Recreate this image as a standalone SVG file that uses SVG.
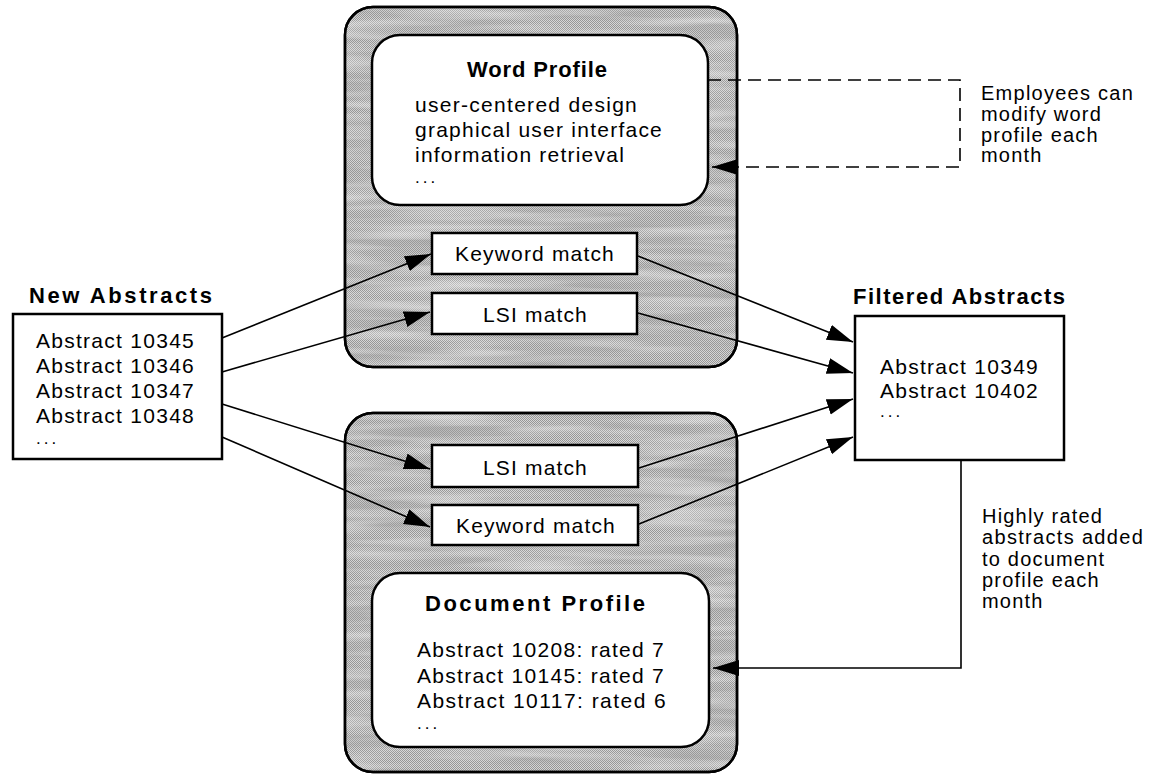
<svg xmlns="http://www.w3.org/2000/svg" width="1149" height="775" viewBox="0 0 1149 775">
  <defs>
    <style>
      .txt { font-family: "Liberation Sans", Arial, sans-serif; font-size: 21px; fill: #000; letter-spacing: 1.2px; }
      .dots { font-family: "Liberation Sans", Arial, sans-serif; font-size: 17px; fill: #000; letter-spacing: 3px; }
      .hd { font-family: "Liberation Sans", Arial, sans-serif; font-size: 22px; font-weight: bold; fill: #000; }
      .note { font-family: "Liberation Sans", Arial, sans-serif; font-size: 20px; fill: #000; letter-spacing: 1.2px; }
      .box { fill: #fff; stroke: #000; stroke-width: 2.5; }
      .outer { fill: url(#dither); stroke: #000; stroke-width: 2.5; }
      .rim { fill: none; stroke: #000; stroke-width: 2.5; }
      .streak { filter: url(#streaks); }
      .conn { fill: none; stroke: #000; stroke-width: 1.6; }
      .dash { stroke-dasharray: 13 7; }
    </style>
    <pattern id="dither" width="2" height="2" patternUnits="userSpaceOnUse">
      <rect width="2" height="2" fill="#d6d6d6"/>
      <rect width="1" height="1" fill="#969696"/>
      <rect x="1" y="1" width="1" height="1" fill="#969696"/>
    </pattern>
    <filter id="streaks" x="0" y="0" width="1" height="1">
      <feTurbulence type="fractalNoise" baseFrequency="0.006 0.08" numOctaves="3" seed="7" result="n"/>
      <feColorMatrix in="n" type="matrix" values="0 0 0 0 0.35  0 0 0 0 0.35  0 0 0 0 0.35  2.2 0 0 0 -0.85" result="dark"/>
      <feTurbulence type="fractalNoise" baseFrequency="0.008 0.1" numOctaves="2" seed="21" result="n2"/>
      <feColorMatrix in="n2" type="matrix" values="0 0 0 0 0.92  0 0 0 0 0.92  0 0 0 0 0.92  2.0 0 0 0 -0.85" result="light"/>
      <feMerge result="m"><feMergeNode in="dark"/><feMergeNode in="light"/></feMerge>
      <feComposite in="m" in2="SourceGraphic" operator="in"/>
    </filter>
    <marker id="arr" markerUnits="userSpaceOnUse" markerWidth="28" markerHeight="18" refX="26" refY="8" orient="auto">
      <path d="M0,0 L26,8 L0,16 z" fill="#000"/>
    </marker>
  </defs>

  <rect width="1149" height="775" fill="#fff"/>

  <!-- Upper (word profile) container -->
  <g id="word-profile-container">
    <rect class="outer" x="345" y="7" width="392" height="360" rx="28"/>
    <rect class="streak" x="346" y="8" width="390" height="358" rx="27" fill="#000" opacity="0.55"/>
    <rect class="rim" x="345" y="7" width="392" height="360" rx="28"/>
  </g>
  <g id="word-profile">
    <rect class="box" x="372" y="35" width="336" height="170" rx="28"/>
    <text class="hd" x="537" y="77" text-anchor="middle" textLength="140" lengthAdjust="spacing">Word Profile</text>
    <text class="txt" x="415" y="112" textLength="223" lengthAdjust="spacing">user-centered design</text>
    <text class="txt" x="415" y="137" textLength="248" lengthAdjust="spacing">graphical user interface</text>
    <text class="txt" x="415" y="162" textLength="210" lengthAdjust="spacing">information retrieval</text>
    <text class="dots" x="415" y="183">...</text>
  </g>
  <g id="keyword-match-top">
    <rect class="box" x="432" y="233" width="205" height="41"/>
    <text class="txt" x="535" y="261" text-anchor="middle" textLength="160" lengthAdjust="spacing">Keyword match</text>
  </g>
  <g id="lsi-match-top">
    <rect class="box" x="432" y="293" width="205" height="41"/>
    <text class="txt" x="535.5" y="322" text-anchor="middle" textLength="105" lengthAdjust="spacing">LSI match</text>
  </g>

  <!-- Lower (document profile) container -->
  <g id="document-profile-container">
    <rect class="outer" x="345" y="413" width="392" height="359" rx="28"/>
    <rect class="streak" x="346" y="414" width="390" height="357" rx="27" fill="#000" opacity="0.55"/>
    <rect class="rim" x="345" y="413" width="392" height="359" rx="28"/>
  </g>
  <g id="lsi-match-bottom">
    <rect class="box" x="432" y="445" width="206" height="42"/>
    <text class="txt" x="535.5" y="475" text-anchor="middle" textLength="105" lengthAdjust="spacing">LSI match</text>
  </g>
  <g id="keyword-match-bottom">
    <rect class="box" x="432" y="505" width="206" height="40"/>
    <text class="txt" x="536" y="533" text-anchor="middle" textLength="160" lengthAdjust="spacing">Keyword match</text>
  </g>
  <g id="document-profile">
    <rect class="box" x="372" y="573" width="337" height="174" rx="28"/>
    <text class="hd" x="535" y="611" text-anchor="middle" textLength="220" lengthAdjust="spacing">Document Profile</text>
    <text class="txt" x="417" y="657" textLength="248" lengthAdjust="spacing">Abstract 10208: rated 7</text>
    <text class="txt" x="417" y="683" textLength="248" lengthAdjust="spacing">Abstract 10145: rated 7</text>
    <text class="txt" x="417" y="708" textLength="250" lengthAdjust="spacing">Abstract 10117: rated 6</text>
    <text class="dots" x="417" y="729">...</text>
  </g>

  <!-- New Abstracts -->
  <g id="new-abstracts">
    <text class="hd" x="29" y="303" textLength="183" lengthAdjust="spacing">New Abstracts</text>
    <rect class="box" x="13" y="314" width="209" height="145"/>
    <text class="txt" x="36" y="348" textLength="159" lengthAdjust="spacing">Abstract 10345</text>
    <text class="txt" x="36" y="373" textLength="159" lengthAdjust="spacing">Abstract 10346</text>
    <text class="txt" x="36" y="398" textLength="159" lengthAdjust="spacing">Abstract 10347</text>
    <text class="txt" x="36" y="423" textLength="159" lengthAdjust="spacing">Abstract 10348</text>
    <text class="dots" x="36" y="444">...</text>
  </g>

  <!-- Filtered Abstracts -->
  <g id="filtered-abstracts">
    <text class="hd" x="853" y="304" textLength="212" lengthAdjust="spacing">Filtered Abstracts</text>
    <rect class="box" x="855" y="316" width="209" height="144"/>
    <text class="txt" x="880" y="374" textLength="159" lengthAdjust="spacing">Abstract 10349</text>
    <text class="txt" x="880" y="398" textLength="159" lengthAdjust="spacing">Abstract 10402</text>
    <text class="dots" x="880" y="417">...</text>
  </g>

  <!-- Connectors -->
  <g id="connectors">
    <line class="conn" x1="222" y1="338" x2="431" y2="254" marker-end="url(#arr)"/>
    <line class="conn" x1="222" y1="372" x2="430" y2="312" marker-end="url(#arr)"/>
    <line class="conn" x1="222" y1="404" x2="430" y2="469" marker-end="url(#arr)"/>
    <line class="conn" x1="222" y1="437" x2="430" y2="527" marker-end="url(#arr)"/>
    <line class="conn" x1="638" y1="256" x2="853" y2="342" marker-end="url(#arr)"/>
    <line class="conn" x1="638" y1="313" x2="853" y2="373" marker-end="url(#arr)"/>
    <line class="conn" x1="639" y1="468" x2="853" y2="399" marker-end="url(#arr)"/>
    <line class="conn" x1="639" y1="524" x2="853" y2="437" marker-end="url(#arr)"/>
    <path class="conn dash" d="M708,80 H960 V167 H712" marker-end="url(#arr)"/>
    <path class="conn" d="M961,460 V668 H713" marker-end="url(#arr)"/>
  </g>

  <!-- Notes -->
  <g id="note-word-profile">
    <text class="note" x="981" y="100" textLength="153" lengthAdjust="spacing">Employees can</text>
    <text class="note" x="981" y="121">modify word</text>
    <text class="note" x="981" y="142">profile each</text>
    <text class="note" x="981" y="162">month</text>
  </g>
  <g id="note-document-profile">
    <text class="note" x="982" y="523">Highly rated</text>
    <text class="note" x="982" y="544" textLength="162" lengthAdjust="spacing">abstracts added</text>
    <text class="note" x="982" y="566">to document</text>
    <text class="note" x="982" y="587">profile each</text>
    <text class="note" x="982" y="608">month</text>
  </g>
</svg>
